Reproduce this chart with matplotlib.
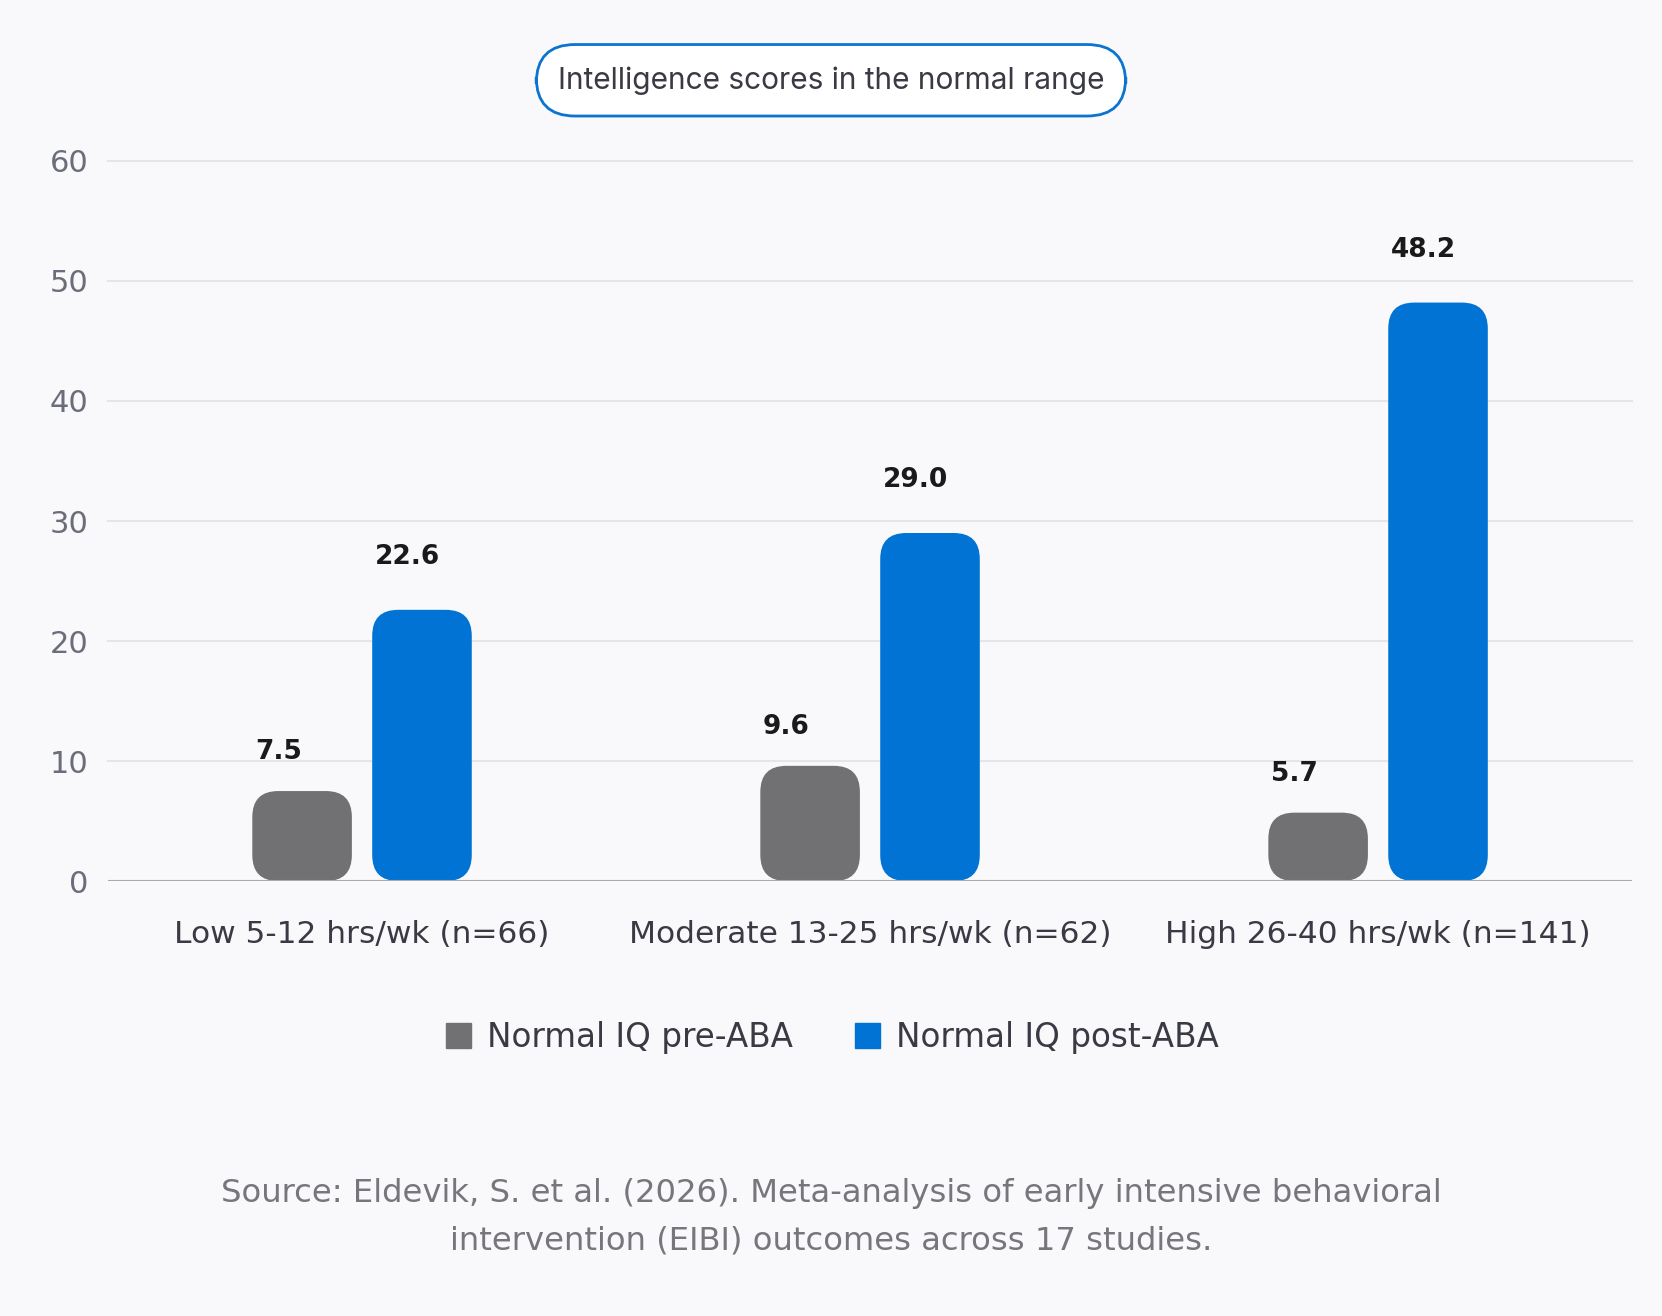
import matplotlib
matplotlib.use("Agg")
import matplotlib.pyplot as plt
from matplotlib.patches import FancyBboxPatch
from matplotlib.lines import Line2D
import numpy as np

categories = ["Low 5-12 hrs/wk (n=66)", "Moderate 13-25 hrs/wk (n=62)", "High 26-40 hrs/wk (n=141)"]
pre_aba = [7.5, 9.6, 5.7]
post_aba = [22.6, 29.0, 48.2]
series_names = ["Normal IQ pre-ABA", "Normal IQ post-ABA"]
yticks = [0, 10, 20, 30, 40, 50, 60]
title = "Intelligence scores in the normal range"
source = ("Source: Eldevik, S. et al. (2026). Meta-analysis of early intensive behavioral\n"
          "intervention (EIBI) outcomes across 17 studies.")

bg = "#f9f8fb"
gray = "#717073"
blue = "#0073d4"

plt.rcParams['font.family'] = ['DejaVu Sans']

fig = plt.figure(figsize=(16.62, 13.16), dpi=100, facecolor=bg)
ax = fig.add_axes([0.065, 0.3305, 0.917, 0.5472], facecolor=bg)

x = np.arange(len(categories))
width = 0.196
offset = 0.118
ax.set_xlim(-0.5, 2.5)
ax.set_ylim(0, 60)

# pixels per data unit, used to keep the corners round
fig.canvas.draw()
bb = ax.get_window_extent()
px_x = bb.width / 3.0
px_y = bb.height / 60.0
aspect = px_x / px_y
radius = 26 / px_x

for vals, col, dx, lift in [(pre_aba, gray, -offset, 28), (post_aba, blue, offset, 38)]:
    for xi, v in zip(x, vals):
        r = min(radius, v * px_y / 2 / px_x)
        left = xi + dx - width / 2
        p = FancyBboxPatch((left, 0), width, v,
                           boxstyle=f"round,pad=0,rounding_size={r}",
                           mutation_aspect=aspect, fc=col, ec="none", zorder=3)
        ax.add_patch(p)
        ax.annotate(f"{v:.1f}", (left, v), xytext=(2, lift), textcoords="offset points",
                    ha="left", va="center", fontsize=19, fontweight="bold",
                    color="#1a1a1a")

ax.set_yticks(yticks)
ax.set_yticklabels([str(t) for t in yticks])
ax.set_xticks(x)
ax.set_xticklabels(categories)
ax.tick_params(axis="y", length=0, pad=14, labelsize=22, labelcolor="#6b6e7a")
ax.tick_params(axis="x", length=0, pad=28, labelsize=22.5, labelcolor="#3a3a44")
for t in yticks[1:]:
    ax.axhline(t, color="#e5e4ea", lw=1.5, zorder=1, clip_on=False)
ax.axhline(0, color="#a8a8b0", lw=1.5, zorder=4)
for s in ax.spines.values():
    s.set_visible(False)

fig.text(0.5, 0.939, title, ha="center", va="center", fontsize=21.5, color="#3a3a44",
         family=["Inter", "DejaVu Sans"],
         bbox=dict(boxstyle="round,pad=0.72,rounding_size=1.3", fc="white", ec="#0a74d0", lw=2))

handles = [Line2D([], [], marker="s", ls="none", ms=18, mfc=gray, mec=gray),
           Line2D([], [], marker="s", ls="none", ms=18, mfc=blue, mec=blue)]
fig.legend(handles, series_names, loc="center", bbox_to_anchor=(0.5, 0.212), ncol=2,
           frameon=False, fontsize=23.5, labelcolor="#3a3a44", handletextpad=0.45,
           columnspacing=1.8, handlelength=0.9)

fig.text(0.5, 0.075, source, ha="center", va="center", fontsize=23.2, color="#77767c",
         linespacing=1.68)

fig.savefig("out.png", dpi=100, facecolor=bg)
